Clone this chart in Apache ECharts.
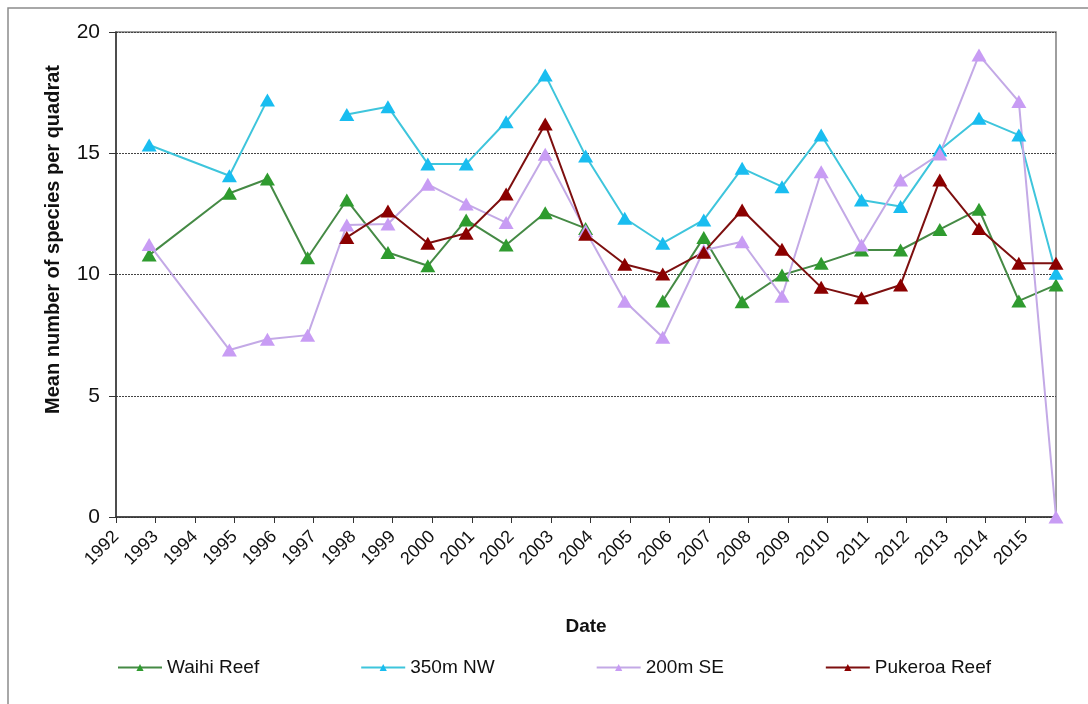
<!DOCTYPE html>
<html>
<head>
<meta charset="utf-8">
<script src="https://cdn.jsdelivr.net/npm/echarts@6/dist/echarts.min.js"></script>
<style>
  html, body { margin: 0; padding: 0; background: #fff; }
  #chart { width: 1088px; height: 704px; }
</style>
</head>
<body>
<div id="chart"></div>
<script>
// Survey dates (one per sampling trip)
const surveyDates = [
  '1992-11-03', '1994-11-14', '1995-10-31', '1996-11-06', '1997-11-03',
  '1998-11-18', '1999-11-21', '2000-11-10', '2001-11-14', '2002-11-10',
  '2003-11-18', '2004-11-14', '2005-10-31', '2006-11-14', '2007-11-03',
  '2008-11-06', '2009-11-03', '2010-11-10', '2011-11-06', '2012-11-03',
  '2013-10-31', '2014-11-03', '2015-10-12'
];

// Mean number of species per quadrat at each site (null = not sampled)
const waihiReef = [10.8, 13.35, 13.94, 10.69, 13.07, 10.91, 10.36, 12.25, 11.22, 12.55, 11.9, null,
  8.91, 11.53, 8.88, 9.98, 10.46, 11.01, 11.01, 11.86, 12.69, 8.91, 9.57];
const nw350m = [15.34, 14.07, 17.2, null, 16.6, 16.92, 14.56, 14.56, 16.3, 18.23, 14.89, 12.32,
  11.29, 12.25, 14.38, 13.62, 15.75, 13.07, 12.8, 15.13, 16.44, 15.75, 10.05];
const se200m = [11.24, 6.89, 7.33, 7.5, 12.04, 12.08, 13.72, 12.91, 12.14, 14.96, 11.8, 8.9,
  7.41, 11.0, 11.35, 9.1, 14.24, 11.22, 13.9, 14.97, 19.05, 17.13, 0];
const pukeroaReef = [null, null, null, null, 11.53, 12.62, 11.29, 11.7, 13.32, 16.21, 11.66, 10.42,
  10.02, 10.92, 12.66, 11.04, 9.47, 9.04, 9.57, 13.9, 11.9, 10.46, 10.46];

const seriesNames = ['Waihi Reef', '350m NW', '200m SE', 'Pukeroa Reef'];
const yTicks = [0, 5, 10, 15, 20];
const firstYearTick = 1992;

// Date string -> fractional year for the date axis
function toYear(s) {
  const d = new Date(s + 'T00:00:00Z');
  const y = d.getUTCFullYear();
  const start = Date.UTC(y, 0, 1), end = Date.UTC(y + 1, 0, 1);
  return y + (d.getTime() - start) / (end - start);
}
const xYears = surveyDates.map(toYear);
const pairs = vals => vals.map((v, i) => [xYears[i], v == null ? '-' : v]);

const styles = [
  { line: '#458a45', mark: '#2f9b2f' },
  { line: '#3ec5dc', mark: '#19bdf0' },
  { line: '#c3a9e6', mark: '#c89cf4' },
  { line: '#7d0f0f', mark: '#8b0000' }
];
const allValues = [waihiReef, nw350m, se200m, pukeroaReef];
const FONT = 'Liberation Sans, Arial, sans-serif';

const chart = echarts.init(document.getElementById('chart'), null, { renderer: 'canvas' });
chart.setOption({
  backgroundColor: '#ffffff',
  animation: false,
  graphic: [{
    type: 'rect', z: -1, silent: true,
    shape: { x: 8, y: 8, width: 1100, height: 720 },
    style: { fill: 'none', stroke: '#8c8c8c', lineWidth: 1.5 }
  }],
  grid: {
    left: 116, right: 32, top: 32, bottom: 187,
    show: true, borderColor: '#7f7f7f', borderWidth: 1.5, backgroundColor: 'transparent'
  },
  legend: {
    bottom: 22, left: 112,
    itemGap: 101, itemWidth: 44, itemHeight: 9,
    textStyle: { fontFamily: FONT, fontSize: 19, color: '#111' },
    data: seriesNames
  },
  xAxis: {
    type: 'value',
    min: firstYearTick,
    max: xYears[xYears.length - 1],
    interval: 1,
    name: 'Date',
    nameLocation: 'middle',
    nameGap: 100,
    nameTextStyle: { fontFamily: FONT, fontSize: 19, fontWeight: 'bold', color: '#111' },
    axisLine: { show: true, onZero: false, lineStyle: { color: '#333', width: 1.5 } },
    axisTick: { show: true, length: 6, inside: false, lineStyle: { color: '#333' } },
    splitLine: { show: false },
    axisLabel: {
      rotate: 45, margin: 17, showMaxLabel: false,
      fontFamily: FONT, fontSize: 18, color: '#111',
      formatter: v => String(Math.round(v))
    }
  },
  yAxis: {
    type: 'value',
    min: yTicks[0], max: yTicks[yTicks.length - 1], interval: yTicks[1] - yTicks[0],
    name: 'Mean number of species per quadrat',
    nameLocation: 'middle',
    nameGap: 53,
    nameTextStyle: {
      fontFamily: FONT, fontSize: 20, fontWeight: 'bold', color: '#111',
      padding: [0, 0, 0, 70]
    },
    axisLine: { show: true, lineStyle: { color: '#333', width: 1.5 } },
    axisTick: { show: true, length: 7, lineStyle: { color: '#333' } },
    splitLine: { show: true, lineStyle: { color: '#444', type: [2, 1], width: 1.2 } },
    axisLabel: {
      margin: 16,
      fontFamily: FONT, fontSize: 21, color: '#111'
    }
  },
  series: allValues.map((vals, i) => ({
    name: seriesNames[i],
    type: 'line',
    data: pairs(vals),
    connectNulls: false,
    symbol: 'triangle',
    symbolSize: [15, 13],
    clip: false,
    lineStyle: { color: styles[i].line, width: 2 },
    itemStyle: { color: styles[i].mark, borderWidth: 0 }
  }))
});
</script>
</body>
</html>
